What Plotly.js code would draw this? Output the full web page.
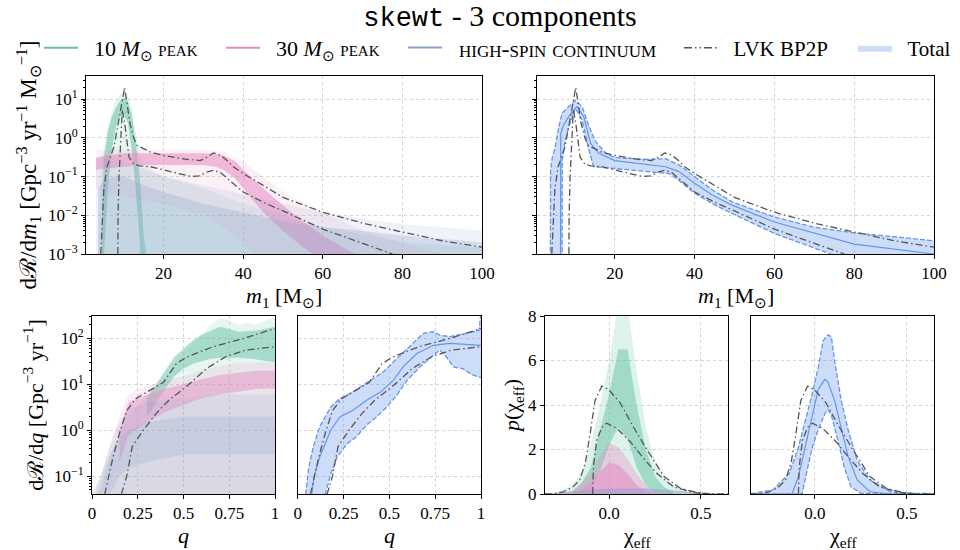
<!DOCTYPE html>
<html><head><meta charset="utf-8">
<script src="https://cdn.plot.ly/plotly-3.0.1.min.js"></script>
<style>html,body{margin:0;padding:0;background:#fff}#chart{width:960px;height:550px}</style>
</head><body><div id="chart"></div>
<script>
// ---------------- DATA ----------------
// LVK BP2P 90% bounds, primary mass
var lvkM1UpX = [4.2, 4.6, 5.0, 5.8, 6.7, 7.5, 8.75, 9.6, 10.2, 10.8, 11.5, 12.5, 13.3, 16.7, 20, 25.8, 29.2, 31.0, 32.5, 34.2, 35.8, 37.5, 40, 45.8, 50, 60, 70.8, 80, 90, 100];
var lvkM1UpY = [0.001, 0.01, 0.05, 0.18, 0.35, 0.58, 2.9, 9, 20, 8, 2.5, 1.0, 0.64, 0.43, 0.35, 0.28, 0.26, 0.32, 0.41, 0.36, 0.27, 0.18, 0.12, 0.053, 0.029, 0.012, 0.006, 0.0037, 0.0022, 0.0015];
var lvkM1LoX = [8.5, 8.55, 8.8, 9.2, 9.6, 10.2, 10.8, 11.3, 12.5, 14, 16.7, 20, 23.3, 27, 29, 30.8, 32.5, 34.2, 36, 37.5, 40, 45.8, 50, 60, 70.8, 77.5];
var lvkM1LoY = [0.001, 0.01, 0.1, 1.0, 5.3, 2.5, 0.8, 0.32, 0.21, 0.19, 0.18, 0.15, 0.12, 0.1, 0.105, 0.13, 0.145, 0.13, 0.09, 0.065, 0.04, 0.02, 0.013, 0.0044, 0.0018, 0.001];

// Total, primary mass (90% band + median)
var totM1UpX = [3.85, 3.9, 4.3, 5.1, 6.0, 6.8, 8.5, 10.1, 11.8, 13.5, 15.2, 17.7, 20, 24, 27.7, 32.7, 36.1, 40, 44.5, 49.5, 60, 69.6, 80, 90, 100];
var totM1UpY = [0.0005, 0.15, 0.3, 0.6, 2.0, 4.4, 6.5, 9.2, 6.5, 2.0, 0.8, 0.4, 0.31, 0.29, 0.28, 0.29, 0.2, 0.1, 0.045, 0.022, 0.009, 0.005, 0.0035, 0.0028, 0.0022];
var totM1LoX = [6.8, 6.85, 7.5, 8.5, 10.1, 11.8, 13.5, 14.7, 17.7, 23.5, 30.2, 33.6, 36.1, 40, 44.5, 49.5, 60, 69.6, 74.6, 80, 100];
var totM1LoY = [0.0005, 0.27, 0.8, 2.0, 5.9, 2.9, 0.49, 0.18, 0.17, 0.15, 0.135, 0.12, 0.08, 0.037, 0.02, 0.011, 0.0034, 0.0015, 0.001, 0.0006, 0.0002];
var totM1MedX = [6.4, 6.45, 7.0, 8.5, 10.5, 12.2, 13.9, 16, 20, 27.7, 32.7, 36.1, 40, 44.5, 49.5, 60, 69.6, 80, 100];
var totM1MedY = [0.0005, 1.3, 2.0, 3.6, 6.5, 3.6, 0.73, 0.4, 0.26, 0.21, 0.18, 0.135, 0.067, 0.033, 0.018, 0.0067, 0.0035, 0.0018, 0.001];

// Component spreads, primary mass (outer and dense envelopes of the draws)
var greenM1OutX  = [3.5, 4, 5, 6, 7, 8, 9, 10, 11, 12, 13, 14, 15, 17, 20, 30, 40, 50, 60, 80, 100];
var greenM1OutHi = [0.001, 0.05, 0.5, 2, 5, 9, 13, 15, 12, 6, 1.5, 0.4, 0.25, 0.15, 0.1, 0.05, 0.02, 0.01, 0.005, 0.002, 0.0015];
var greenM1OutLo = [0.0001, 0.0001, 0.0001, 0.0001, 0.0001, 0.0001, 0.0001, 0.0001, 0.0001, 0.0001, 0.0001, 0.0001, 0.0001, 0.0001, 0.0001, 0.0001, 0.0001, 0.0001, 0.0001, 0.0001, 0.0001];
var greenM1InX  = [4.5, 5, 6, 7, 8, 9, 10, 11, 12, 13, 14, 14.5, 15, 16];
var greenM1InHi = [0.01, 0.3, 1.5, 3.5, 6, 9, 11, 9, 4, 0.8, 0.1, 0.02, 0.003, 0.0005];
var greenM1InLo = [0.0001, 0.0001, 0.05, 0.5, 2, 3.5, 4, 2.5, 0.5, 0.05, 0.002, 0.0001, 0.0001, 0.0001];
var pinkM1OutX  = [3, 10, 20, 30, 35, 40, 45, 50, 60, 70, 80, 90];
var pinkM1OutHi = [0.5, 0.5, 0.5, 0.5, 0.45, 0.25, 0.1, 0.04, 0.012, 0.004, 0.002, 0.001];
var pinkM1OutLo = [0.05, 0.03, 0.02, 0.01, 0.005, 0.002, 0.0005, 0.0001, 0.0001, 0.0001, 0.0001, 0.0001];
var pinkM1InX  = [3, 5, 10, 15, 20, 25, 30, 33, 35, 38, 40, 45, 50, 55, 60, 65, 68];
var pinkM1InHi = [0.3, 0.35, 0.4, 0.4, 0.4, 0.4, 0.4, 0.38, 0.35, 0.25, 0.15, 0.05, 0.018, 0.007, 0.003, 0.0015, 0.001];
var pinkM1InLo = [0.15, 0.16, 0.18, 0.2, 0.2, 0.2, 0.2, 0.18, 0.15, 0.09, 0.05, 0.012, 0.004, 0.0015, 0.0007, 0.0003, 0.0002];
var blueM1OutX  = [3, 4, 6, 8, 10, 15, 20, 30, 40, 50, 60, 70, 80, 90, 100];
var blueM1OutHi = [0.3, 0.3, 0.3, 0.3, 0.25, 0.15, 0.1, 0.06, 0.035, 0.02, 0.012, 0.008, 0.006, 0.005, 0.004];
var blueM1OutLo = [0.0001, 0.0001, 0.0001, 0.0001, 0.0001, 0.0001, 0.0001, 0.0001, 0.0001, 0.0001, 0.0001, 0.0001, 0.0001, 0.0001, 0.0001];
var blueM1InX  = [3.5, 5, 8, 10, 15, 20, 30, 40, 50, 60, 70, 80, 90, 100];
var blueM1InHi = [0.05, 0.08, 0.1, 0.1, 0.06, 0.04, 0.02, 0.012, 0.007, 0.005, 0.004, 0.003, 0.0025, 0.002];
var blueM1InLo = [0.0001, 0.0001, 0.0001, 0.0001, 0.0001, 0.0001, 0.0001, 0.0001, 0.0001, 0.0001, 0.0001, 0.0001, 0.0001, 0.0001];

// Mass ratio
var lvkQUpX = [0.069, 0.09, 0.115, 0.15, 0.19, 0.24, 0.315, 0.39, 0.46, 0.515, 0.66, 0.81, 1.0];
var lvkQUpY = [0.04, 0.1, 0.26, 0.85, 2.7, 4.9, 7.4, 11, 28, 39, 66, 95, 165];
var lvkQLoX = [0.16, 0.19, 0.22, 0.28, 0.35, 0.42, 0.515, 0.625, 0.73, 0.84, 1.0];
var lvkQLoY = [0.04, 0.1, 0.44, 1.0, 2.3, 4.5, 8.9, 22, 40, 56, 66];
var totQUpX = [0.035, 0.06, 0.085, 0.12, 0.18, 0.23, 0.286, 0.34, 0.395, 0.47, 0.54, 0.61, 0.685, 0.74, 0.775, 0.83, 0.92, 0.99, 1.0];
var totQUpY = [0.02, 0.15, 0.44, 1.2, 3.2, 4.9, 6.3, 8.8, 12.3, 19, 36, 66, 129, 140, 118, 110, 128, 152, 400];
var totQLoX = [0.13, 0.18, 0.215, 0.27, 0.32, 0.376, 0.43, 0.486, 0.54, 0.595, 0.667, 0.74, 0.775, 0.81, 0.85, 0.9, 0.955, 1.0];
var totQLoY = [0.02, 0.11, 0.26, 0.51, 0.72, 1.3, 1.95, 3.2, 5.8, 12, 24, 43, 56, 40, 24, 22, 16, 14];
var totQMedX = [0.067, 0.09, 0.12, 0.18, 0.23, 0.3, 0.376, 0.45, 0.52, 0.575, 0.65, 0.74, 0.83, 1.0];
var totQMedY = [0.02, 0.1, 0.26, 1.0, 1.95, 2.7, 4.5, 6.7, 12, 24, 47, 71, 78, 71];
var greenQOutX  = [0, 0.1, 0.2, 0.3, 0.4, 0.5, 0.6, 0.65, 0.7, 0.75, 0.8, 0.85, 0.9, 1.0];
var greenQOutHi = [0.04, 0.3, 2, 6, 15, 50, 120, 200, 280, 250, 200, 220, 200, 300];
var greenQOutLo = [0.01, 0.01, 0.01, 0.01, 0.01, 0.01, 0.01, 0.01, 0.01, 0.01, 0.01, 0.01, 0.01, 0.01];
var greenQInX  = [0.3, 0.35, 0.4, 0.45, 0.5, 0.55, 0.6, 0.65, 0.7, 0.75, 0.8, 0.9, 1.0];
var greenQInHi = [5, 10, 20, 40, 60, 90, 120, 150, 180, 160, 140, 150, 180];
var greenQInLo = [2, 4, 8, 15, 22, 28, 32, 36, 38, 38, 38, 35, 30];
var pinkQOutX  = [0.02, 0.05, 0.1, 0.15, 0.2, 0.25, 0.3, 0.4, 0.5, 0.6, 0.7, 0.8, 0.9, 1.0];
var pinkQOutHi = [0.04, 0.1, 0.5, 2, 6, 8, 9, 12, 15, 20, 25, 30, 30, 30];
var pinkQOutLo = [0.01, 0.01, 0.01, 0.01, 0.01, 0.01, 0.01, 0.01, 0.01, 0.01, 0.01, 0.01, 0.01, 0.01];
var pinkQInX  = [0.15, 0.2, 0.3, 0.4, 0.5, 0.6, 0.7, 0.8, 0.9, 1.0];
var pinkQInHi = [1, 4, 6, 8, 10, 13, 16, 18, 20, 20];
var pinkQInLo = [0.2, 0.8, 1.5, 2.5, 3.5, 5, 6, 7, 8, 8];
var blueQOutX  = [0, 0.05, 0.1, 0.15, 0.2, 0.3, 0.5, 0.7, 1.0];
var blueQOutHi = [0.04, 0.1, 0.5, 1.5, 3, 4, 5, 6, 6];
var blueQOutLo = [0.01, 0.01, 0.01, 0.01, 0.01, 0.01, 0.01, 0.01, 0.01];
var blueQInX  = [0.03, 0.05, 0.1, 0.15, 0.2, 0.3, 0.5, 0.7, 1.0];
var blueQInHi = [0.04, 0.06, 0.3, 0.7, 1, 1.5, 2, 2, 2];
var blueQInLo = [0.01, 0.01, 0.04, 0.1, 0.15, 0.2, 0.3, 0.3, 0.3];

// Effective spin
var lvkChiUpX = [-0.35, -0.3, -0.25, -0.2, -0.16, -0.13, -0.104, -0.077, -0.04, -0.004, 0.06, 0.133, 0.206, 0.3, 0.39, 0.5, 0.6, 0.65];
var lvkChiUpY = [0, 0.01, 0.1, 0.3, 0.63, 1.4, 2.7, 4.2, 4.85, 4.7, 4.1, 3.0, 2.0, 0.78, 0.25, 0.03, 0, 0];
var lvkChiLoX = [-0.09, -0.088, -0.086, -0.068, -0.04, -0.013, 0.042, 0.115, 0.188, 0.26, 0.35, 0.46, 0.55];
var lvkChiLoY = [0, 0.5, 1.2, 2.4, 3.0, 3.18, 2.95, 2.35, 1.6, 0.93, 0.33, 0.06, 0];
var totChiUpX = [-0.35, -0.335, -0.23, -0.14, -0.09, -0.054, -0.018, 0.018, 0.045, 0.07, 0.089, 0.107, 0.143, 0.18, 0.23, 0.3, 0.41, 0.54, 0.65];
var totChiUpY = [0.03, 0.03, 0.18, 0.93, 2.1, 3.2, 4.4, 5.7, 6.9, 7.15, 7.07, 6.0, 4.2, 2.9, 1.5, 0.63, 0.1, 0.03, 0.02];
var totChiLoX = [-0.35, -0.07, -0.06, -0.045, -0.018, 0.018, 0.054, 0.07, 0.089, 0.125, 0.16, 0.196, 0.25, 0.65];
var totChiLoY = [0, 0, 0.4, 0.93, 2.0, 2.9, 3.6, 3.8, 3.55, 2.4, 1.2, 0.33, 0.03, 0];
var totChiMedX = [-0.35, -0.125, -0.09, -0.054, -0.018, 0.018, 0.054, 0.07, 0.107, 0.143, 0.18, 0.23, 0.3, 0.41, 0.65];
var totChiMedY = [0, 0, 0.78, 2.1, 3.5, 4.7, 5.15, 5.05, 4.2, 2.9, 1.7, 0.63, 0.1, 0, 0];
var greenChiOutX  = [-0.35, -0.3, -0.2, -0.15, -0.1, -0.05, 0, 0.05, 0.08, 0.1, 0.15, 0.2, 0.25, 0.3, 0.35, 0.4, 0.5, 0.65];
var greenChiOutHi = [0.02, 0.05, 0.4, 1, 2.2, 4, 6, 8.5, 9, 8.5, 5.5, 3, 1.5, 0.7, 0.4, 0.15, 0.03, 0];
var greenChiOutLo = [0, 0, 0, 0, 0, 0, 0, 0, 0, 0, 0, 0, 0, 0, 0, 0, 0, 0];
var greenChiInX  = [-0.2, -0.15, -0.1, -0.05, 0, 0.05, 0.1, 0.15, 0.2, 0.25, 0.3, 0.35];
var greenChiInHi = [0.1, 0.5, 1.2, 2.8, 4.5, 6.5, 6.5, 4, 2, 0.8, 0.3, 0.1];
var greenChiInLo = [0, 0.05, 0.2, 1, 2.2, 3, 2.5, 1.2, 0.4, 0.1, 0, 0];
var pinkChiOutX  = [-0.3, -0.2, -0.1, -0.05, 0, 0.05, 0.1, 0.15, 0.2, 0.25, 0.3, 0.35];
var pinkChiOutHi = [0, 0.15, 0.9, 1.7, 2.3, 2.1, 1.6, 0.9, 0.4, 0.15, 0.05, 0];
var pinkChiOutLo = [0, 0, 0, 0, 0, 0, 0, 0, 0, 0, 0, 0];
var pinkChiInX  = [-0.2, -0.15, -0.1, -0.05, 0, 0.05, 0.1, 0.15, 0.2, 0.25];
var pinkChiInHi = [0.05, 0.2, 0.5, 1.0, 1.4, 1.3, 0.9, 0.4, 0.1, 0];
var pinkChiInLo = [0, 0, 0, 0, 0, 0, 0, 0, 0, 0];
var blueChiX  = [-0.35, -0.2, 0, 0.2, 0.4, 0.5, 0.65];
var blueChiHi = [0.02, 0.12, 0.25, 0.25, 0.15, 0.08, 0.03];
var blueChiLo = [0, 0, 0, 0, 0, 0, 0];

// Tick labels and legend names
var logTickValsM1 = [0.001, 0.01, 0.1, 1, 10];
var logTickTextM1 = ['10<sup>−3</sup>', '10<sup>−2</sup>', '10<sup>−1</sup>', '10<sup>0</sup>', '10<sup>1</sup>'];
var logTickValsQ = [0.1, 1, 10, 100];
var logTickTextQ = ['10<sup>−1</sup>', '10<sup>0</sup>', '10<sup>1</sup>', '10<sup>2</sup>'];
var m1TickVals = [20, 40, 60, 80, 100];
var qTickVals = [0, 0.25, 0.5, 0.75, 1];
var qTickText = ['0', '0.25', '0.5', '0.75', '1'];
var chiTickVals = [0, 0.5];
var chiTickText = ['0.0', '0.5'];
var pTickVals = [0, 2, 4, 6, 8];
var legendNames = ['10 <i>M</i><sub>⊙</sub> peak', '30 <i>M</i><sub>⊙</sub> peak', 'high-spin continuum', 'LVK BP2P', 'Total'];

// ---------------- STYLE ----------------
var SERIF = 'Liberation Serif';
var GREEN = '102,194,165', PINK = '231,138,195', BLUE = '141,160,203';
var TOTAL = '#6495ed', TOTALFILL = 'rgba(100,149,237,0.32)';
var LVKC = '#555555', LVKDASH = '7px,3px,1.5px,3px';
var W = 960, H = 550;

function band(xs, hi, lo, rgb, a, xa, ya) {
  return {x: xs.concat(xs.slice().reverse()), y: hi.concat(lo.slice().reverse()),
    xaxis: xa, yaxis: ya, mode: 'lines', fill: 'toself', fillcolor: 'rgba(' + rgb + ',' + a + ')',
    line: {width: 0, color: 'rgba(0,0,0,0)'}, hoverinfo: 'skip', showlegend: false};
}
function poly(xu, yu, xl, yl, xa, ya, show) {
  return {x: xu.concat(xl.slice().reverse()), y: yu.concat(yl.slice().reverse()),
    xaxis: xa, yaxis: ya, mode: 'lines', fill: 'toself', fillcolor: TOTALFILL,
    line: {width: 0, color: 'rgba(0,0,0,0)'}, name: '\u00a0\u00a0' + legendNames[4], legend: 'legend5', showlegend: !!show};
}
function line(xs, ys, xa, ya, color, dash, width) {
  return {x: xs, y: ys, xaxis: xa, yaxis: ya, mode: 'lines', line: {color: color, dash: dash, width: width || 1.3}, showlegend: false};
}

var traces = [];
function components(sets, xa, ya) {
  sets.forEach(function (s) { traces.push(band(s[0], s[1], s[2], s[3], s[4], xa, ya)); });
}
// top-left: components
components([
  [greenM1OutX, greenM1OutHi, greenM1OutLo, GREEN, 0.15],
  [greenM1InX, greenM1InHi, greenM1InLo, GREEN, 0.55],
  [pinkM1OutX, pinkM1OutHi, pinkM1OutLo, PINK, 0.13],
  [pinkM1InX, pinkM1InHi, pinkM1InLo, PINK, 0.55],
  [blueM1OutX, blueM1OutHi, blueM1OutLo, BLUE, 0.14],
  [blueM1InX, blueM1InHi, blueM1InLo, BLUE, 0.28]
], 'x', 'y');
traces.push(line(lvkM1UpX, lvkM1UpY, 'x', 'y', LVKC, LVKDASH));
traces.push(line(lvkM1LoX, lvkM1LoY, 'x', 'y', LVKC, LVKDASH));
// top-right: total
traces.push(poly(totM1UpX, totM1UpY, totM1LoX, totM1LoY, 'x2', 'y2', true));
traces.push(line(totM1UpX, totM1UpY, 'x2', 'y2', TOTAL, '5px,2px', 1.3));
traces.push(line(totM1LoX, totM1LoY, 'x2', 'y2', TOTAL, '5px,2px', 1.3));
traces.push(line(totM1MedX, totM1MedY, 'x2', 'y2', TOTAL, 'solid', 1.2));
traces.push(line(lvkM1UpX, lvkM1UpY, 'x2', 'y2', LVKC, LVKDASH));
traces.push(line(lvkM1LoX, lvkM1LoY, 'x2', 'y2', LVKC, LVKDASH));
// bottom q components
components([
  [greenQOutX, greenQOutHi, greenQOutLo, GREEN, 0.15],
  [greenQInX, greenQInHi, greenQInLo, GREEN, 0.5],
  [pinkQOutX, pinkQOutHi, pinkQOutLo, PINK, 0.16],
  [pinkQInX, pinkQInHi, pinkQInLo, PINK, 0.45],
  [blueQOutX, blueQOutHi, blueQOutLo, BLUE, 0.16],
  [blueQInX, blueQInHi, blueQInLo, BLUE, 0.22]
], 'x3', 'y3');
traces.push(line(lvkQUpX, lvkQUpY, 'x3', 'y3', LVKC, LVKDASH));
traces.push(line(lvkQLoX, lvkQLoY, 'x3', 'y3', LVKC, LVKDASH));
// q total
traces.push(poly(totQUpX, totQUpY, totQLoX, totQLoY, 'x4', 'y4', false));
traces.push(line(totQUpX, totQUpY, 'x4', 'y4', TOTAL, '5px,2px', 1.3));
traces.push(line(totQLoX, totQLoY, 'x4', 'y4', TOTAL, '5px,2px', 1.3));
traces.push(line(totQMedX, totQMedY, 'x4', 'y4', TOTAL, 'solid', 1.2));
traces.push(line(lvkQUpX, lvkQUpY, 'x4', 'y4', LVKC, LVKDASH));
traces.push(line(lvkQLoX, lvkQLoY, 'x4', 'y4', LVKC, LVKDASH));
// chi components
components([
  [greenChiOutX, greenChiOutHi, greenChiOutLo, GREEN, 0.22],
  [greenChiInX, greenChiInHi, greenChiInLo, GREEN, 0.5],
  [pinkChiOutX, pinkChiOutHi, pinkChiOutLo, PINK, 0.35],
  [pinkChiInX, pinkChiInHi, pinkChiInLo, PINK, 0.55],
  [blueChiX, blueChiHi, blueChiLo, BLUE, 0.5]
], 'x5', 'y5');
traces.push(line(lvkChiUpX, lvkChiUpY, 'x5', 'y5', LVKC, LVKDASH));
traces.push(line(lvkChiLoX, lvkChiLoY, 'x5', 'y5', LVKC, LVKDASH));
// chi total
traces.push(poly(totChiUpX, totChiUpY, totChiLoX, totChiLoY, 'x6', 'y6', false));
traces.push(line(totChiUpX, totChiUpY, 'x6', 'y6', TOTAL, '5px,2px', 1.3));
traces.push(line(totChiLoX, totChiLoY, 'x6', 'y6', TOTAL, '5px,2px', 1.3));
traces.push(line(totChiMedX, totChiMedY, 'x6', 'y6', TOTAL, 'solid', 1.2));
traces.push(line(lvkChiUpX, lvkChiUpY, 'x6', 'y6', LVKC, LVKDASH));
traces.push(line(lvkChiLoX, lvkChiLoY, 'x6', 'y6', LVKC, LVKDASH));

// legend-only entries
[['rgb(' + GREEN + ')', 0, 'solid', 2], ['rgb(' + PINK + ')', 1, 'solid', 2], ['rgb(' + BLUE + ')', 2, 'solid', 2], [LVKC, 3, '8px,3px,1.5px,3px,1.5px,3px', 1.5]].forEach(function (c) {
  traces.push({x: [null], y: [null], xaxis: 'x', yaxis: 'y', mode: 'lines', name: '\u00a0\u00a0' + legendNames[c[1]],
    legend: c[1] === 0 ? 'legend' : 'legend' + (c[1] + 1),
    line: {color: c[0], dash: c[2], width: c[3]}, showlegend: true});
});

// ---------------- LAYOUT ----------------
function minorLog(lo, hi) {
  var v = [];
  for (var e = lo; e <= hi; e++) for (var k = 2; k <= 9; k++) v.push(k * Math.pow(10, e));
  return v;
}
function dom(a, b, n) { return n === 'x' ? [a / W, b / W] : [1 - b / H, 1 - a / H]; }
var TF = {family: SERIF, size: 17, color: '#000'};
var AF = {family: SERIF, size: 22, color: '#000'};
function axis(extra) {
  return Object.assign({showline: true, linecolor: '#000', linewidth: 1, mirror: true,
    ticks: 'outside', ticklen: 4, tickwidth: 1, tickcolor: '#000',
    showgrid: true, gridcolor: '#d4d4d4', griddash: 'dot', gridwidth: 1, zeroline: false,
    tickfont: TF, automargin: false}, extra);
}
var minorM1 = {tickvals: minorLog(-3, 1), ticks: 'outside', ticklen: 2, tickcolor: '#000', showgrid: false};
var minorQ = {tickvals: minorLog(-2, 2), ticks: 'outside', ticklen: 2, tickcolor: '#000', showgrid: false};
function leg(px, smallcaps, size) {
  return {orientation: 'h', x: px / W, xanchor: 'left', y: 1 - 48 / H, yanchor: 'middle', itemwidth: 34,
    font: {family: SERIF, size: size, color: '#000', variant: smallcaps ? 'small-caps' : 'normal'},
    bgcolor: 'rgba(0,0,0,0)', borderwidth: 0};
}
function xTitle(text, px, py) {
  return {text: text, x: px / W, y: 1 - py / H, xref: 'paper', yref: 'paper', showarrow: false,
    xanchor: 'center', yanchor: 'middle', font: AF};
}

var layout = {
  width: W, height: H, margin: {l: 0, r: 0, t: 0, b: 0}, paper_bgcolor: '#fff', plot_bgcolor: '#fff',
  font: {family: SERIF, color: '#000'},
  title: {text: '<span style="font-family:Liberation Mono;font-size:27px">skewt</span> - 3 components', font: {family: SERIF, size: 30, color: '#000'},
    x: 500 / W, xanchor: 'center', y: 1 - 15 / H, yanchor: 'middle'},
  showlegend: true,
  legend: leg(39, true, 22), legend2: leg(221, true, 22), legend3: leg(403, true, 24), legend4: leg(679, false, 21), legend5: leg(853, false, 21),
  annotations: [
    xTitle('<i>m</i><sub>1</sub> [M<sub>⊙</sub>]', 284, 297),
    xTitle('<i>m</i><sub>1</sub> [M<sub>⊙</sub>]', 735.5, 297),
    xTitle('<i>q</i>', 183.5, 535),
    xTitle('<i>q</i>', 389.3, 535),
    xTitle('χ<sub>eff</sub>', 636.6, 537),
    xTitle('χ<sub>eff</sub>', 842.5, 537)
  ],
  xaxis: axis({domain: dom(86, 482, 'x'), range: [0.5, 100], tickvals: m1TickVals, anchor: 'y'}),
  yaxis: axis({domain: dom(76, 254, 'y'), type: 'log', range: [-3, 1.6], tickvals: logTickValsM1, ticktext: logTickTextM1, anchor: 'x',
    minor: minorM1, title: {text: 'dℛ/d<i>m</i><sub>1</sub> [Gpc<sup>−3</sup> yr<sup>−1</sup> M<sub>⊙</sub><sup>−1</sup>]', font: {family: SERIF, size: 23, color: '#000'}, standoff: 4}}),
  xaxis2: axis({domain: dom(537, 934, 'x'), range: [0.5, 100], tickvals: m1TickVals, anchor: 'y2'}),
  yaxis2: axis({domain: dom(76, 254, 'y'), type: 'log', range: [-3, 1.6], tickvals: logTickValsM1, ticktext: logTickTextM1, anchor: 'x2',
    minor: minorM1, showticklabels: false}),
  xaxis3: axis({domain: dom(92, 275, 'x'), range: [0, 1], tickvals: qTickVals, ticktext: qTickText, anchor: 'y3'}),
  yaxis3: axis({domain: dom(316, 494, 'y'), type: 'log', range: [-1.39, 2.49], tickvals: logTickValsQ, ticktext: logTickTextQ, anchor: 'x3',
    minor: minorQ, title: {text: 'dℛ/d<i>q</i> [Gpc<sup>−3</sup> yr<sup>−1</sup>]', font: AF, standoff: 4}}),
  xaxis4: axis({domain: dom(297.7, 481, 'x'), range: [0, 1], tickvals: qTickVals, ticktext: qTickText, anchor: 'y4'}),
  yaxis4: axis({domain: dom(316, 494, 'y'), type: 'log', range: [-1.39, 2.49], tickvals: logTickValsQ, anchor: 'x4',
    ticks: '', showticklabels: false}),
  xaxis5: axis({domain: dom(545, 728.3, 'x'), range: [-0.35, 0.65], tickvals: chiTickVals, ticktext: chiTickText, anchor: 'y5'}),
  yaxis5: axis({domain: dom(316, 494, 'y'), range: [0, 8], tickvals: pTickVals, anchor: 'x5',
    title: {text: '<i>p</i>(χ<sub>eff</sub>)', font: AF, standoff: 2}}),
  xaxis6: axis({domain: dom(750.7, 934.3, 'x'), range: [-0.35, 0.65], tickvals: chiTickVals, ticktext: chiTickText, anchor: 'y6'}),
  yaxis6: axis({domain: dom(316, 494, 'y'), range: [0, 8], tickvals: pTickVals, anchor: 'x6', ticks: '', showticklabels: false})
};

Plotly.newPlot('chart', traces, layout, {staticPlot: true, displayModeBar: false});
</script></body></html>
